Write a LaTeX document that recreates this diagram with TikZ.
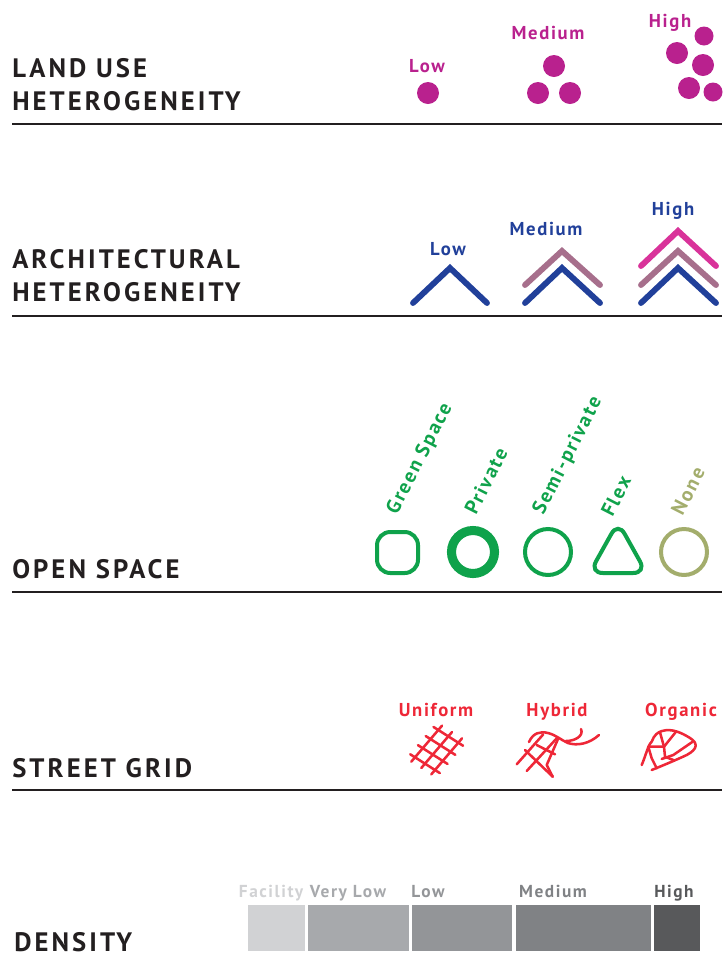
\documentclass[tikz,border=0pt]{standalone}
\usepackage{fontspec}
\setmainfont{PT Sans}
\newfontfamily\headf[LetterSpace=11.5]{PT Sans Bold}
\newfontfamily\labf[LetterSpace=9]{PT Sans}
\definecolor{inkk}{HTML}{231F20}
\definecolor{mag}{HTML}{B9218E}
\definecolor{navy}{HTML}{21409A}
\definecolor{mauve}{HTML}{A76F8C}
\definecolor{pinkk}{HTML}{D9339A}
\definecolor{grn}{HTML}{0FA24B}
\definecolor{oliv}{HTML}{A3AD6C}
\definecolor{redd}{HTML}{EE2737}
\definecolor{g1}{HTML}{D1D2D4}
\definecolor{g2}{HTML}{A7A9AC}
\definecolor{g3}{HTML}{939598}
\definecolor{g4}{HTML}{808285}
\definecolor{g5}{HTML}{58595B}
\tikzset{
  heading/.style={anchor=base west,inner sep=0pt,text=inkk,font=\headf\fontsize{20}{22}\selectfont},
  lab/.style={anchor=base,inner sep=0pt,font=\labf\bfseries\fontsize{14}{16}\selectfont},
  denslab/.style={anchor=base,inner sep=0pt,font=\labf\bfseries\fontsize{13}{15}\selectfont},
  slant/.style={anchor=center,inner sep=0pt,rotate=63,font=\labf\bfseries\fontsize{15}{17}\selectfont},
  rule/.style={draw=inkk,line width=1.6pt},
  chev/.style={line width=4.4pt,line cap=round,miter limit=10},
  street/.style={draw=redd,line width=1.9pt,line cap=round,line join=round}
}
\begin{document}
\begin{tikzpicture}[x=0.75pt,y=-0.75pt]
\useasboundingbox (0,0) rectangle (722,965);
% rules
\draw[rule] (12,124) -- (722,124);
\draw[rule] (12,316) -- (722,316);
\draw[rule] (12,592) -- (722,592);
\draw[rule] (12,790) -- (722,790);
% headings
\node[heading] (h1a) at (12,77) {LAND USE};
\node[heading] (h1b) at (12,110) {HETEROGENEITY};
\node[heading] (h2a) at (12,268) {ARCHITECTURAL};
\node[heading] (h2b) at (12,301) {HETEROGENEITY};
\node[heading] (h3) at (12,578) {OPEN SPACE};
\node[heading] (h4) at (12,777) {STREET GRID};
\node[heading] (h5) at (14,951) {DENSITY};
% land use
\node[lab,text=mag] (lu1) at (427,72) {Low};
\node[lab,text=mag] (lu2) at (548,39) {Medium};
\node[lab,text=mag] (lu3) at (670,27) {High};
\fill[mag] (428,93) circle (11);
\fill[mag] (554,66) circle (11);
\fill[mag] (538,93) circle (11);
\fill[mag] (570,93) circle (11);
\fill[mag] (677,53) circle (11);
\fill[mag] (704,36) circle (9.5);
\fill[mag] (703,65) circle (11);
\fill[mag] (689,88) circle (11);
\fill[mag] (713,92) circle (9.5);
% architectural
\node[lab,text=navy] (a1) at (448,255) {Low};
\node[lab,text=navy] (a2) at (546,235) {Medium};
\node[lab,text=navy] (a3) at (673,215) {High};
\draw[chev,navy] (413,303) -- (450,268) -- (487,303);
\draw[chev,mauve] (525,285) -- (562,251) -- (600,285);
\draw[chev,navy] (525,303) -- (562,268) -- (600,303);
\draw[chev,pinkk] (641,266) -- (678,231) -- (716,266);
\draw[chev,mauve] (641,285) -- (678,251) -- (716,285);
\draw[chev,navy] (641,303) -- (678,268) -- (716,303);
% open space
\node[slant,text=grn] (o1) at (420,459) {Green Space};
\node[slant,text=grn] (o2) at (486,481) {Private};
\node[slant,text=grn] (o3) at (568,456) {Semi-private};
\node[slant,text=grn] (o4) at (616,496) {Flex};
\node[slant,text=oliv] (o5) at (688,491) {None};
\draw[grn,line width=3pt,rounded corners=10] (377,532) rectangle (418,573);
\draw[grn,line width=6.8pt] (473,552) circle (21.5);
\draw[grn,line width=3pt] (548,552) circle (23);
\draw[grn,line width=3pt,rounded corners=10] (618,522) -- (646.5,573) -- (589.5,573) -- cycle;
\draw[oliv,line width=3pt] (684,552) circle (23);
% street grid
\node[lab,text=redd] (s1) at (436,716) {Uniform};
\node[lab,text=redd] (s2) at (557,716) {Hybrid};
\node[lab,text=redd] (s3) at (681,716) {Organic};
\foreach \i in {0,1,2,3}{
  \draw[street] ({415+\i/3*23.3-0.24*20},{757.3-\i/3*27.3-0.24*12.7}) -- ({415+\i/3*23.3+1.24*20},{757.3-\i/3*27.3+1.24*12.7});
}
\foreach \j in {0,1,2}{
  \draw[street] ({415+\j/2*20-0.16*23.3},{757.3+\j/2*12.7+0.16*27.3}) -- ({415+\j/2*20+1.16*23.3},{757.3+\j/2*12.7-1.16*27.3});
}
% hybrid
\draw[street] (529,742) .. controls (533,733) and (540,731) .. (548,733)
  .. controls (556,735) and (561,740) .. (568,743) .. controls (577,746) and (589,744) .. (599,735);
\draw[street] (566,741) .. controls (575,741) and (584,736) .. (581,729);
\draw[street] (516.7,764.3) -- (543.3,734.3);
\draw[street] (526.7,771) -- (556.7,738.3);
\draw[street] (558.3,738.3) -- (546.7,765) -- (552.7,776.7);
\draw[street] (525,750) -- (552.7,776.7);
\draw[street] (536.7,745) -- (555,754.3);
% organic
\draw[street] (641.7,765) .. controls (646,755) and (648,745) .. (651.7,741.7)
  .. controls (654,735) and (658,732) .. (662,731) .. controls (672,728) and (682,733) .. (690,738)
  .. controls (698,743) and (698,749) .. (686.7,755) .. controls (676,760) and (664,765) .. (651.7,770);
\draw[street] (660,732.3) -- (664,746.7);
\draw[street] (648.3,746.7) -- (664,746.7) -- (665,756.7) -- (673.3,760);
\draw[street] (676,731.7) -- (664,746.7);
\draw[street] (692.7,741.7) -- (673.3,755) -- (661.7,759);
\draw[street] (648.3,746.7) -- (651.7,758.3) -- (656.7,768.3);
% density
\node[denslab,text=g1] (d1) at (271,897) {Facility};
\node[denslab,text=g2] (d2) at (348,897) {Very Low};
\node[denslab,text=g3] (d3) at (428,897) {Low};
\node[denslab,text=g4] (d4) at (553,897) {Medium};
\node[denslab,text=g5] (d5) at (674,897) {High};
\fill[g1] (248,905) rectangle (305,950.5);
\fill[g2] (308,905) rectangle (409,950.5);
\fill[g3] (412,905) rectangle (512,950.5);
\fill[g4] (515.5,905) rectangle (651,950.5);
\fill[g5] (653.5,905) rectangle (700,950.5);
\end{tikzpicture}
\end{document}
